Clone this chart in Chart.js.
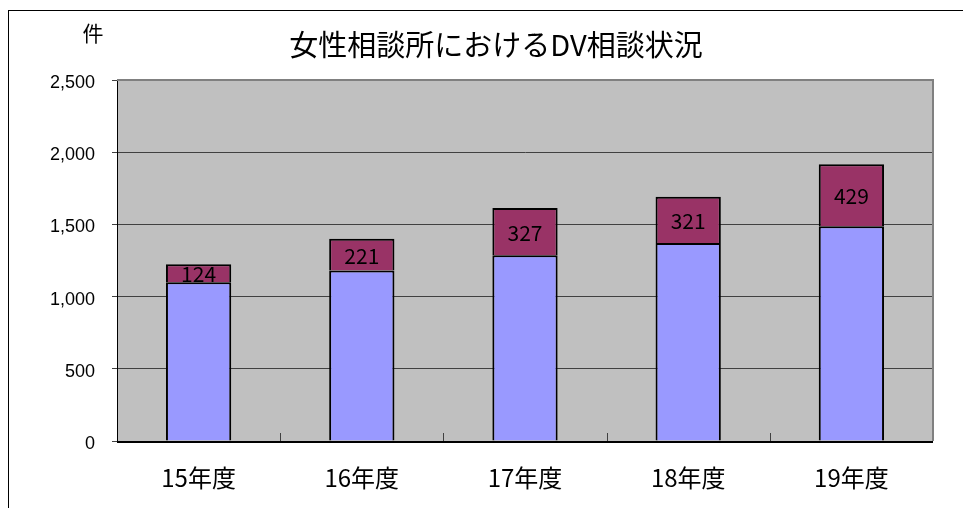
<!DOCTYPE html>
<html>
<head>
<meta charset="utf-8">
<script src="https://cdn.jsdelivr.net/npm/chart.js@4.4.1/dist/chart.umd.min.js"></script>
<style>
  body { margin: 0; background: #fff; }
</style>
</head>
<body>
<canvas id="myChart" width="963" height="508"></canvas>
<script>
// データ
const years = ["15年度", "16年度", "17年度", "18年度", "19年度"];
const baseCounts = [1100, 1180, 1286, 1371, 1487];
const dvCounts = [124, 221, 327, 321, 429];
const yTicks = [0, 500, 1000, 1500, 2000, 2500];

const jpFont = "'Noto Sans CJK JP', sans-serif";

// 枠・背景・タイトル・ラベルを描く
const decor = {
  id: "decor",
  beforeDraw(chart) {
    const c = chart.ctx;
    const a = chart.chartArea;
    c.save();
    c.fillStyle = "#fff";
    c.fillRect(0, 0, chart.width, chart.height);
    c.strokeStyle = "#000";
    c.lineWidth = 1;
    c.strokeRect(8.5, 10.5, 1000, 600);
    c.fillStyle = "#c0c0c0";
    c.fillRect(a.left, a.top, a.right - a.left, a.bottom - a.top);
    // タイトル
    c.fillStyle = "#000";
    c.textAlign = "center";
    c.textBaseline = "middle";
    c.font = "29px " + jpFont;
    c.fillText("女性相談所におけるDV相談状況", 496, 45);
    c.font = "21px " + jpFont;
    c.fillText("件", 93, 33);
    c.restore();
  },
  afterDraw(chart) {
    const c = chart.ctx;
    const a = chart.chartArea;
    const x = chart.scales.x;
    c.save();
    c.strokeStyle = "#808080";
    c.lineWidth = 2;
    c.beginPath();
    c.moveTo(a.left, a.top);
    c.lineTo(a.right, a.top);
    c.lineTo(a.right, a.bottom);
    c.stroke();
    // 目盛り (内向き)
    c.strokeStyle = "#404040";
    c.lineWidth = 1;
    for (let i = 1; i < years.length; i++) {
      const px = Math.round((x.getPixelForValue(i - 1) + x.getPixelForValue(i)) / 2) + 0.5;
      c.beginPath();
      c.moveTo(px, a.bottom);
      c.lineTo(px, a.bottom - 8);
      c.stroke();
    }
    c.strokeStyle = "#000";
    c.lineWidth = 2;
    c.beginPath();
    c.moveTo(a.left, a.bottom + 1);
    c.lineTo(a.right, a.bottom + 1);
    c.stroke();
    // 値ラベル
    const meta = chart.getDatasetMeta(1);
    c.fillStyle = "#000";
    c.font = "21px " + jpFont;
    c.textAlign = "center";
    c.textBaseline = "middle";
    meta.data.forEach((bar, i) => {
      const mid = (bar.y + bar.base) / 2;
      c.fillText(dvCounts[i].toString(), bar.x, mid + 1);
    });
    c.restore();
  },
};

const ctx = document.getElementById("myChart").getContext("2d");
const myChart = new Chart(ctx, {
  type: "bar",
  data: {
    labels: years,
    datasets: [
      {
        label: "相談件数",
        data: baseCounts,
        backgroundColor: "#9999ff",
        borderColor: "#000",
        borderWidth: { top: 2, left: 2, right: 2, bottom: 0 },
        borderSkipped: false,
      },
      {
        label: "DV相談",
        data: dvCounts,
        backgroundColor: "#993366",
        borderColor: "#000",
        borderWidth: { top: 2, left: 2, right: 2, bottom: 0 },
        borderSkipped: false,
      },
    ],
  },
  options: {
    responsive: false,
    animation: false,
    layout: {
      padding: { top: 80, right: 30, left: 0, bottom: 0 },
    },
    datasets: {
      bar: { categoryPercentage: 1, barPercentage: 0.4 },
    },
    plugins: {
      legend: { display: false },
      tooltip: { enabled: false },
      title: { display: false },
    },
    scales: {
      x: {
        stacked: true,
        grid: { display: false },
        border: { display: false },
        ticks: {
          color: "#000",
          font: { family: jpFont, size: 24 },
          padding: 14,
          maxRotation: 0,
        },
        afterFit(scale) {
          scale.height = 67;
        },
      },
      y: {
        stacked: true,
        min: 0,
        max: 2500,
        afterBuildTicks(scale) {
          scale.ticks = yTicks.map((v) => ({ value: v }));
        },
        grid: {
          color: "#404040",
          lineWidth: 1,
          tickLength: 5,
        },
        border: { color: "#000", width: 1 },
        ticks: {
          color: "#000",
          font: { family: "'Liberation Sans', Arial, sans-serif", size: 18 },
          padding: 17,
          labelOffset: 3,
          callback: (v) => v.toLocaleString("en-US"),
        },
        afterFit(scale) {
          scale.width = 117;
        },
      },
    },
  },
  plugins: [decor],
});
</script>
</body>
</html>
